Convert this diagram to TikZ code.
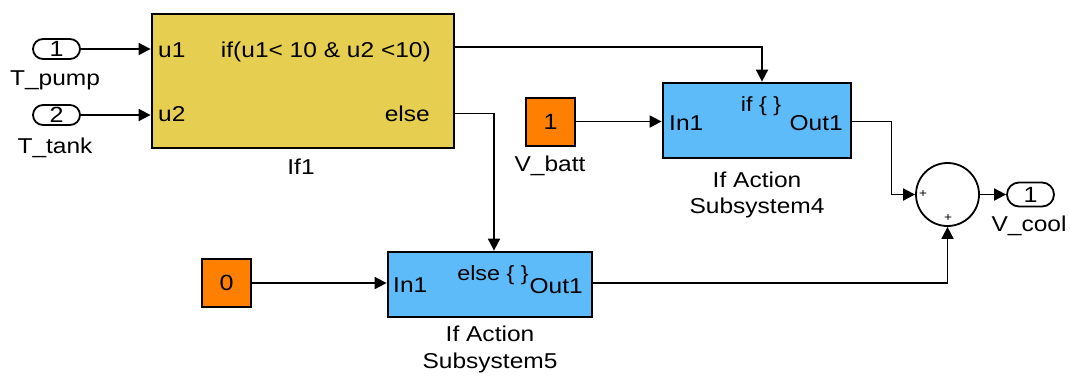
\documentclass[tikz,border=0pt]{standalone}
\usepackage{fontspec}
\setmainfont{Liberation Sans}[FakeStretch=1.14]
\usetikzlibrary{arrows.meta,calc}
\definecolor{ifyellow}{RGB}{230,207,80}
\definecolor{ssblue}{RGB}{94,187,250}
\definecolor{cstorange}{RGB}{255,128,0}
\begin{document}
\begin{tikzpicture}[x=1pt,y=-1pt,
  sig/.style={line width=1.8pt,-{Triangle[length=12pt,width=12pt]}},
  blk/.style={draw=black,line width=2.8pt,inner sep=0pt},
  cst/.style={draw=black,line width=2pt,fill=cstorange,minimum width=49pt,minimum height=48pt,inner sep=0pt,font=\fontsize{22}{24}\selectfont},
  port/.style={draw=black,line width=1.8pt,rounded corners=10pt,minimum width=47pt,minimum height=20pt,inner sep=0pt,font=\fontsize{22}{22}\selectfont},
  txt/.style={inner sep=0pt,font=\fontsize{21.5}{25}\selectfont},
  acttxt/.style={inner sep=0pt,font=\fontsize{20.5}{25}\selectfont},
  small/.style={inner sep=0pt,font=\fontsize{12}{12}\selectfont}
]
\useasboundingbox (0,0) rectangle (1070,376);

% blocks
\node[blk,fill=ifyellow,minimum width=302pt,minimum height=134pt] (if1) at (303,81) {};
\node[blk,fill=ssblue,minimum width=188pt,minimum height=75pt] (sub4) at (757,120.5) {};
\node[blk,fill=ssblue,minimum width=204pt,minimum height=65pt] (sub5) at (490,284.5) {};
\node[cst] (c1) at (550.5,121.5) {1};
\node[cst] (c0) at (226.5,283) {0};
\node[draw=black,line width=1.8pt,circle,minimum size=63pt,inner sep=0pt] (sum) at (947.5,194.5) {};
\node[port] (p1) at (56.5,49) {1};
\node[port] (p2) at (56.5,115) {2};
\node[port,rounded corners=12pt,minimum height=24pt] (pout) at (1030.5,194.5) {1};

% texts
\node[txt,anchor=base west] (tu1) at (158,57) {u1};
\node[txt,anchor=base west] (tu2) at (158,121.5) {u2};
\node[txt,anchor=base east] (tif) at (431,57) {if(u1< 10 \& u2 <10)};
\node[txt,anchor=base east] (telse) at (430,121.5) {else};
\node[txt,anchor=base] (tif1) at (301,174) {If1};
\node[txt,anchor=base] (tpump) at (55,85) {T\_pump};
\node[txt,anchor=base] (ttank) at (55,153) {T\_tank};
\node[txt,anchor=base] (tvbatt) at (550,171.5) {V\_batt};
\node[txt,anchor=base west] (tin4) at (669,130) {In1};
\node[txt,anchor=base east] (tout4) at (843,130) {Out1};
\node[acttxt,anchor=base] (tifb) at (761,111.5) {if \{ \}};
\node[txt,anchor=base west] (tin5) at (393,292.5) {In1};
\node[txt,anchor=base east] (tout5) at (583,293) {Out1};
\node[acttxt,anchor=base] (telseb) at (493,280) {else \{ \}};
\node[txt,anchor=base] (tia4) at (757,187) {If Action};
\node[txt,anchor=base] (tss4) at (757,213) {Subsystem4};
\node[txt,anchor=base] (tia5) at (490,341) {If Action};
\node[txt,anchor=base] (tss5) at (490,368) {Subsystem5};
\node[txt,anchor=base] (tvcool) at (1029,231) {V\_cool};
\node[small] (plus1) at (923,194) {+};
\node[small] (plus2) at (948,218) {+};

% connectors
\coordinate (ifo) at (if1.east |- 0,47);
\coordinate (elo) at (if1.east |- 0,113.5);
\draw[sig] (p1.east) -- (if1.west |- p1.east);
\draw[sig] (p2.east) -- (if1.west |- p2.east);
\draw[sig] (ifo) -| ([xshift=5pt]sub4.north);
\draw[sig] (elo) -| ([xshift=4pt]sub5.north);
\draw[sig] (c1.east) -- (sub4.west |- c1.east);
\draw[sig] (c0.east) -- (sub5.west |- c0.east);
\draw[sig] (sub4.east |- c1.east) -- ++(39,0) |- (sum.west);
\draw[sig] (sub5.east |- c0.east) -| (sum.south);
\draw[sig] (sum.east) -- (pout.west);
\end{tikzpicture}
\end{document}
